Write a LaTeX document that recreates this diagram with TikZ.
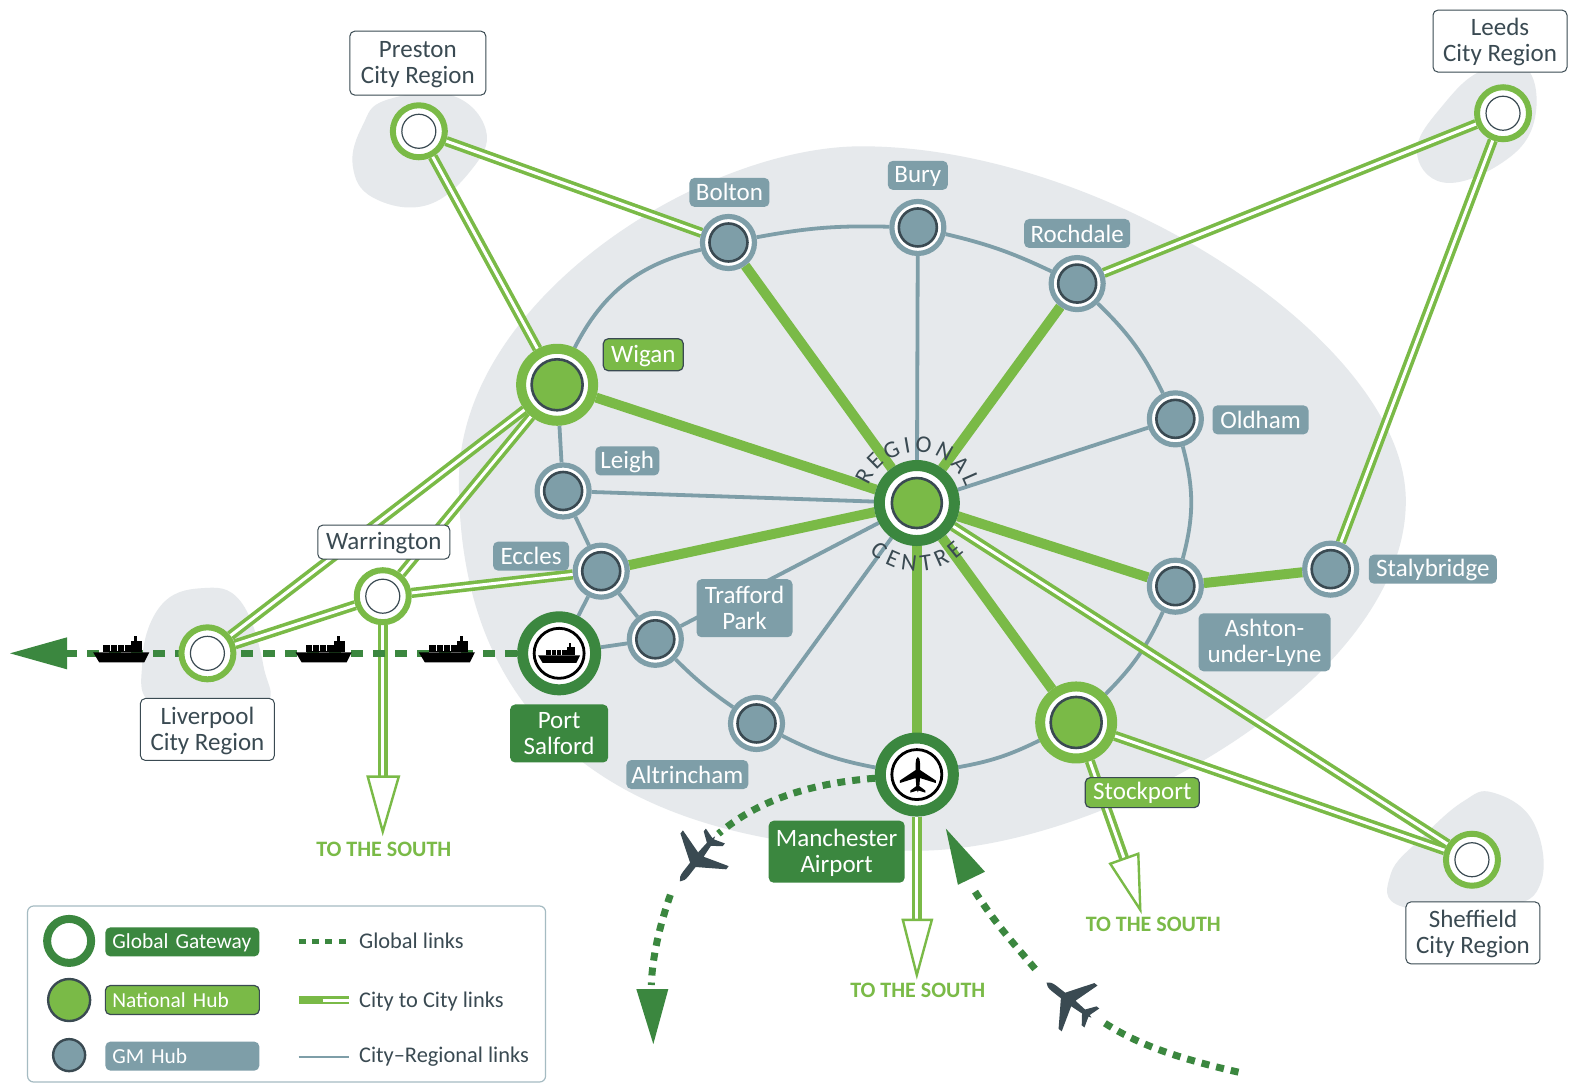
\documentclass[tikz,border=0pt]{standalone}
\usepackage{fontspec}
\setmainfont{Carlito}
\usetikzlibrary{backgrounds,decorations.text}
\definecolor{lgreen}{HTML}{7ABA47}
\definecolor{dgreen}{HTML}{3B873F}
\definecolor{gmc}{HTML}{7E9EA8}
\definecolor{darkc}{HTML}{3A4A52}
\definecolor{blobc}{HTML}{E6E9EC}
\tikzset{
  x=0.501pt,y=-0.501pt,
  lab/.style={rounded corners=2.5pt,inner sep=0pt,align=center,text=white,font=\fontsize{12.5}{13}\selectfont,minimum height=14.5pt},
  dsc/.style={text depth=1pt},
  gmlab/.style={lab,fill=gmc},
  natlab/.style={lab,fill=lgreen,draw=darkc,line width=.6pt},
  globlab/.style={lab,fill=dgreen},
  citylab/.style={lab,dsc,fill=white,draw=darkc,line width=.5pt,text=darkc},
  keytext/.style={inner sep=0pt,anchor=west,text=darkc,font=\fontsize{11.2}{13}\selectfont,dsc},
  southlab/.style={inner sep=0pt,text=lgreen,font=\fontsize{11}{13}\selectfont\bfseries},
  ro/.style={circle,inner sep=0pt},
  gmout/.style={ro,minimum size=26pt,draw=gmc,line width=2.6pt,fill=white},
  gmin/.style={ro,minimum size=19pt,draw=darkc,line width=1.3pt,fill=gmc},
  natout/.style={ro,minimum size=36pt,draw=lgreen,line width=5pt,fill=white},
  natin/.style={ro,minimum size=25.5pt,draw=darkc,line width=1.3pt,fill=lgreen},
  cenout/.style={ro,minimum size=37.5pt,draw=dgreen,line width=5.5pt,fill=white},
  cenin/.style={ro,minimum size=25pt,draw=darkc,line width=1.3pt,fill=lgreen},
  gateout/.style={ro,minimum size=26pt,draw=lgreen,line width=3pt,fill=white},
  gatein/.style={ro,minimum size=17pt,draw=darkc,line width=.6pt,fill=white},
  portout/.style={ro,minimum size=36.5pt,draw=dgreen,line width=5.5pt,fill=white},
  portin/.style={ro,minimum size=25pt,draw=black,line width=1.4pt,fill=white},
  citylink/.style={draw=lgreen,line width=1.8pt,double=white,double distance=1.5pt},
  thicklink/.style={draw=lgreen,line width=5pt},
  reglink/.style={draw=gmc,line width=1.9pt},
  globlink/.style={draw=dgreen,line width=3.5pt,dash pattern=on 6pt off 5pt},
  flight/.style={draw=dgreen,line width=3.5pt,dash pattern=on 4pt off 3.5pt},
  hollow/.style={draw=lgreen,line width=1.2pt,fill=white,line join=miter},
  blob/.style={fill=blobc,draw=none},
  pics/shipicon/.style={code={
    \fill[black] (-28,0) -- (28,0) -- (23,10) -- (-22,10) -- cycle;
    \fill[black] (-18,-7) rectangle (10,0);
    \fill[black] (10,-11) rectangle (21,0);
    \fill[black] (13,-16) rectangle (16,-11);
    \draw[white,line width=.3pt] (-11,-7) -- (-11,-1) (-4,-7) -- (-4,-1) (3,-7) -- (3,-1);
  }},
  pics/planeicon/.style={code={
    \fill[#1] (0,-30) .. controls (2.5,-28) and (3.5,-25) .. (3.5,-20) -- (3.5,-9) -- (29,8) -- (29,12) -- (3.5,4)
      -- (2.5,17) -- (12,24) -- (12,27.5) -- (1,24) -- (0,27) -- (-1,24) -- (-12,27.5) -- (-12,24) -- (-2.5,17)
      -- (-3.5,4) -- (-29,12) -- (-29,8) -- (-3.5,-9) -- (-3.5,-20) .. controls (-3.5,-25) and (-2.5,-28) .. (0,-30) -- cycle;
  }},
}
\newcommand{\hubnode}[3]{%
  \node[#3out] (#1) at (#2) {};
  \node[#3in] (#1i) at (#2) {};}
\begin{document}
\begin{tikzpicture}
\useasboundingbox (0pt,0pt) rectangle (785.5pt,-542pt);

% Hubs
\hubnode{preston}{418,131}{gate}
\hubnode{leeds}{1500,113}{gate}
\hubnode{sheffield}{1469,858}{gate}
\hubnode{liverpool}{207,652}{gate}
\hubnode{warrington}{382,595}{gate}
\hubnode{bolton}{727,242}{gm}
\hubnode{bury}{916,227}{gm}
\hubnode{rochdale}{1075,283}{gm}
\hubnode{oldham}{1173,418}{gm}
\hubnode{ashton}{1173,585}{gm}
\hubnode{staly}{1328,568}{gm}
\hubnode{leigh}{562,490}{gm}
\hubnode{eccles}{600,570}{gm}
\hubnode{trafford}{654,638}{gm}
\hubnode{altrincham}{755,722}{gm}
\hubnode{wigan}{556,384}{nat}
\hubnode{stockport}{1074,721}{nat}
\hubnode{centre}{915,502}{cen}
\hubnode{port}{558,652}{port}
\hubnode{airport}{915,773}{port}
\pic[scale=.75] (portship) at (558,654) {shipicon};
\pic[scale=.62] (airplane) at (916,774) {planeicon=black};

% Labels
\node[citylab,minimum width=68pt,minimum height=32pt] (lpreston) at (417,63) {Preston\\City Region};
\node[citylab,minimum width=67pt,minimum height=31pt] (lleeds) at (1497,41) {Leeds\\City Region};
\node[citylab,minimum width=66pt,minimum height=17pt] (lwarrington) at (383,541) {Warrington};
\node[citylab,minimum width=67pt,minimum height=31pt] (lliverpool) at (207,728) {Liverpool\\City Region};
\node[citylab,minimum width=67pt,minimum height=31pt] (lsheffield) at (1470,931) {Sheffield\\City Region};
\node[gmlab,minimum width=40pt] (lbolton) at (728,192) {Bolton};
\node[gmlab,dsc,minimum width=30pt] (lbury) at (916,175) {Bury};
\node[gmlab,minimum width=53pt] (lrochdale) at (1075,233) {Rochdale};
\node[gmlab,minimum width=48pt] (loldham) at (1258,419) {Oldham};
\node[gmlab,dsc,minimum width=32pt] (lleigh) at (626,460) {Leigh};
\node[gmlab,minimum width=38pt] (leccles) at (530,555) {Eccles};
\node[gmlab,dsc,minimum width=64pt] (lstaly) at (1430,568) {Stalybridge};
\node[gmlab,minimum width=48pt,minimum height=29pt] (ltrafford) at (743,607) {Trafford\\Park};
\node[gmlab,dsc,minimum width=66pt,minimum height=29pt] (lashton) at (1262,641) {Ashton-\\under-Lyne};
\node[gmlab,minimum width=61pt] (laltrincham) at (686,773) {Altrincham};
\node[natlab,dsc,minimum width=40pt,minimum height=16pt] (lwigan) at (642,354) {Wigan};
\node[natlab,minimum width=57pt,minimum height=15pt] (lstockport) at (1140,791) {Stockport};
\node[globlab,minimum width=49pt,minimum height=29pt] (lport) at (558,732) {Port\\Salford};
\node[globlab,dsc,minimum width=68pt,minimum height=31pt] (lairport) at (835,850) {Manchester\\Airport};
\node[southlab] (s1) at (383,848) {TO THE SOUTH};
\node[southlab] (s2) at (916,988) {TO THE SOUTH};
\node[southlab] (s3) at (1151,922) {TO THE SOUTH};

% Curved centre text
\begin{scope}[shift={(915,502)},x=0.5pt,y=0.5pt]
  \path[decorate,decoration={text along path,text={|\fontsize{12}{13}\selectfont\color{darkc}|REGIONAL},text align={fit to path}}]
    (160:51) arc[start angle=160,end angle=18,radius=51];
  \path[decorate,decoration={text along path,text={|\fontsize{12}{13}\selectfont\color{darkc}|CENTRE},text align={fit to path}}]
    (226:68) arc[start angle=226,end angle=314,radius=68];
\end{scope}

% Free ends
\coordinate (warend) at (382,776);
\coordinate (airend) at (915,918);
\coordinate (stockend) at (1122,857);
\coordinate (globalend) at (65,652);
\coordinate (inbound) at (1236,1070);
\coordinate (out1) at (717,832);
\coordinate (out2) at (669,893);
\coordinate (out3) at (650,983);
\coordinate (in1) at (1098,1018);
\coordinate (in2) at (1033,967);
\coordinate (in3) at (970,885);

\begin{scope}[on background layer]
  \fill[white] (0pt,0pt) rectangle (785.5pt,-542pt);
  % Grey regions
  \fill[blob] (458,480) .. controls (458,300) and (700,146) .. (860,146) .. controls (1100,146) and (1403,340) .. (1403,500) .. controls (1403,680) and (1100,849) .. (915,849) .. controls (640,849) and (458,740) .. (458,480) -- cycle;
  \fill[blob] plot[smooth cycle,tension=.7] coordinates {(385,100) (450,95) (485,130) (470,170) (425,205) (372,197) (352,165) (362,125)};
  \fill[blob] plot[smooth cycle,tension=.7] coordinates {(1480,70) (1525,70) (1530,125) (1495,165) (1440,182) (1414,150) (1440,105)};
  \fill[blob] plot[smooth cycle,tension=.7] coordinates {(1490,791) (1530,820) (1538,880) (1500,905) (1400,905) (1388,872) (1420,835) (1460,800)};
  \fill[blob] plot[smooth cycle,tension=.7] coordinates {(201,587) (240,600) (263,665) (259,705) (158,705) (142,660) (160,605)};
  % City-regional ring
  \draw[reglink] (wigan) to[bend left=25] (bolton);
  \draw[reglink] (bolton) to[bend left=6] (bury);
  \draw[reglink] (bury) to[bend left=6] (rochdale);
  \draw[reglink] (rochdale) to[bend left=10] (oldham);
  \draw[reglink] (oldham) to[bend left=15] (ashton);
  \draw[reglink] (ashton) to[bend left=10] (stockport);
  \draw[reglink] (stockport) to[bend left=8] (airport);
  \draw[reglink] (airport) to[bend left=8] (altrincham);
  \draw[reglink] (altrincham) to[bend left=5] (trafford);
  \draw[reglink] (trafford) -- (eccles);
  \draw[reglink] (eccles) -- (leigh);
  \draw[reglink] (leigh) -- (wigan);
  \draw[reglink] (eccles) -- (port);
  \draw[reglink] (port) -- (trafford);
  % Regional spokes
  \draw[reglink] (centre) -- (bury);
  \draw[reglink] (centre) -- (oldham);
  \draw[reglink] (centre) -- (leigh);
  \draw[reglink] (centre) -- (trafford);
  \draw[reglink] (centre) -- (altrincham);
  % Thick links
  \draw[thicklink] (centre) -- (wigan);
  \draw[thicklink] (centre) -- (bolton);
  \draw[thicklink] (centre) -- (rochdale);
  \draw[thicklink] (centre) -- (eccles);
  \draw[thicklink] (centre) -- (ashton);
  \draw[thicklink] (centre) -- (stockport);
  \draw[thicklink] (centre) -- (airport);
  \draw[thicklink] (ashton) -- (staly);
  % City to city links
  \draw[citylink] (preston) -- (bolton);
  \draw[citylink] (preston) -- (wigan);
  \draw[citylink] (rochdale) -- (leeds);
  \draw[citylink] (staly) -- (leeds);
  \draw[citylink] (centre) -- (sheffield);
  \draw[citylink] (stockport) -- (sheffield);
  \draw[citylink] (wigan) -- (liverpool);
  \draw[citylink] (wigan) -- (warrington);
  \draw[citylink] (warrington) -- (liverpool);
  \draw[citylink] (warrington) -- (eccles);
  \draw[citylink] (warrington) -- (warend);
  \draw[citylink] (airport) -- (airend);
  \draw[citylink] (stockport) -- (stockend);
  % Global links
  \draw[globlink] (port) -- (globalend);
  \draw[flight] (airport.185) .. controls (805,782) and (755,800) .. (out1);
  \draw[flight] (out2) .. controls (658,925) and (651,955) .. (out3);
  \draw[flight] (inbound) .. controls (1170,1055) and (1130,1040) .. (in1);
  \draw[flight] (in2) .. controls (1015,945) and (995,925) .. (in3);
\end{scope}

% Arrowheads
\draw[hollow] (367,775) -- (398,775) -- (382,830) -- cycle;
\draw[hollow] (901,918) -- (930,918) -- (915,973) -- cycle;
\draw[hollow] (1108,862) -- (1136,852) -- (1138,908) -- cycle;
\fill[dgreen] (67,636) -- (67,668) -- (10,652) -- cycle;
\fill[dgreen] (635,987) -- (667,987) -- (652,1042) -- cycle;
\fill[dgreen] (956,883) -- (983,870) -- (944,827) -- cycle;

% Ships and planes
\pic (ship1) at (121,651) {shipicon};
\pic (ship2) at (323,651) {shipicon};
\pic (ship3) at (446,651) {shipicon};
\pic[rotate=142] (plane1) at (697,856) {planeicon=darkc};
\pic[rotate=52] (plane2) at (1068,999) {planeicon=darkc};

% Legend
\node[draw=gmc!70,line width=.6pt,rounded corners=3pt,minimum width=259pt,minimum height=88pt,inner sep=0pt] (legend) at (286,992) {};
\node[ro,minimum size=22pt,draw=dgreen,line width=4pt,fill=white] (kglobal) at (69,939) {};
\node[ro,minimum size=21pt,draw=darkc,line width=1.2pt,fill=lgreen] (knational) at (69,998) {};
\node[ro,minimum size=16pt,draw=darkc,line width=1.2pt,fill=gmc] (kgm) at (69,1053) {};
\node[globlab,dsc,minimum width=77pt,text width=70pt,align=left,font=\fontsize{10.7}{13}\selectfont] (lglobal) at (182,940) {Global Gateway};
\node[natlab,minimum width=77pt,text width=70pt,align=left,font=\fontsize{10.7}{13}\selectfont] (lnational) at (182,998) {National Hub};
\node[gmlab,minimum width=77pt,text width=70pt,align=left,font=\fontsize{10.7}{13}\selectfont] (lgm) at (182,1054) {GM Hub};
\coordinate (k1a) at (298,940); \coordinate (k1b) at (350,940);
\coordinate (k2a) at (298,998); \coordinate (k2m) at (322,998); \coordinate (k2b) at (348,998);
\coordinate (k3a) at (298,1055); \coordinate (k3b) at (348,1055);
\draw[draw=dgreen,line width=2.5pt,dash pattern=on 3.5pt off 3.2pt] (k1a) -- (k1b);
\draw[thicklink,line width=4pt] (k2a) -- (k2m);
\draw[citylink,line width=1.25pt] (k2m) -- (k2b);
\draw[reglink,line width=1.2pt] (k3a) -- (k3b);
\node[keytext] (t1) at (358,940) {Global links};
\node[keytext] (t2) at (358,999) {City to City links};
\node[keytext] (t3) at (358,1054) {City–Regional links};
\end{tikzpicture}
\end{document}
